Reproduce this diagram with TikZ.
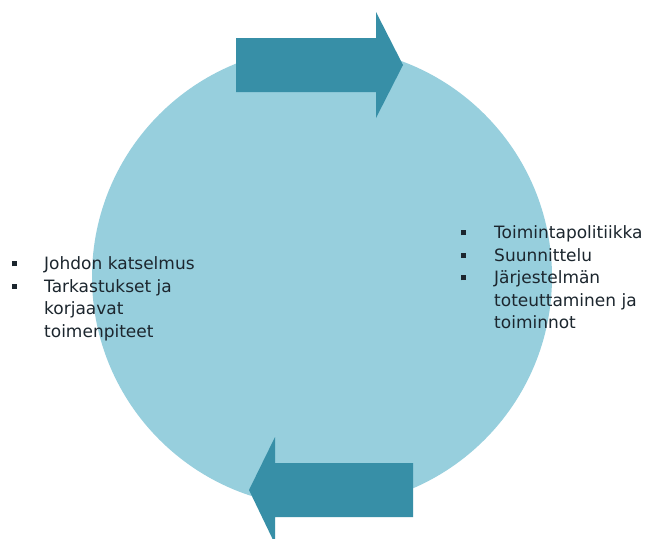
\documentclass[tikz,border=0pt]{standalone}
\usepackage{fontspec}
\setmainfont{DejaVu Sans}
\definecolor{ringfill}{HTML}{97CFDD}
\definecolor{arrowfill}{HTML}{378FA7}
\definecolor{inktext}{HTML}{1C262E}
\newcommand{\sqbullet}{\raisebox{0.2em}{\rule{5pt}{5pt}}}
\tikzset{
  ring/.style={circle, fill=ringfill, draw=none, inner sep=0pt},
  flowarrow/.style={fill=arrowfill, draw=none},
  listtext/.style={inner sep=0pt, text=inktext, font=\fontsize{17}{22.4}\selectfont, align=left},
}
\begin{document}
\begin{tikzpicture}[x=1pt, y=-1pt]
  \useasboundingbox (0,0) rectangle (652,538);
  \clip (0,0) rectangle (652,538);
  \fill[white] (0,0) rectangle (652,538);

  % the cycle
  \node[ring, minimum size=460pt] (cycle) at (322,277) {};

  % upper arrow, pointing right
  \fill[flowarrow] (236,38) -- (376,38) -- (376,12) -- (403,65)
        -- (376,118) -- (376,92) -- (236,92) -- cycle;

  % lower arrow, pointing left
  \fill[flowarrow] (413,463) -- (275,463) -- (275,437) -- (249,490)
        -- (275,544) -- (275,517) -- (413,517) -- cycle;

  % left list
  \node[listtext, anchor=north west] (review) at (12,254) {%
    \begin{tabular}{@{}p{32pt}@{}l@{}}
      \sqbullet & Johdon katselmus\\
      \sqbullet & Tarkastukset ja\\
                & korjaavat\\
                & toimenpiteet
    \end{tabular}};

  % right list
  \node[listtext, anchor=north west] (plan) at (461,223) {%
    \begin{tabular}{@{}p{33pt}@{}l@{}}
      \sqbullet & Toimintapolitiikka\\
      \sqbullet & Suunnittelu\\
      \sqbullet & Järjestelmän\\
                & toteuttaminen ja\\
                & toiminnot
    \end{tabular}};
\end{tikzpicture}
\end{document}
